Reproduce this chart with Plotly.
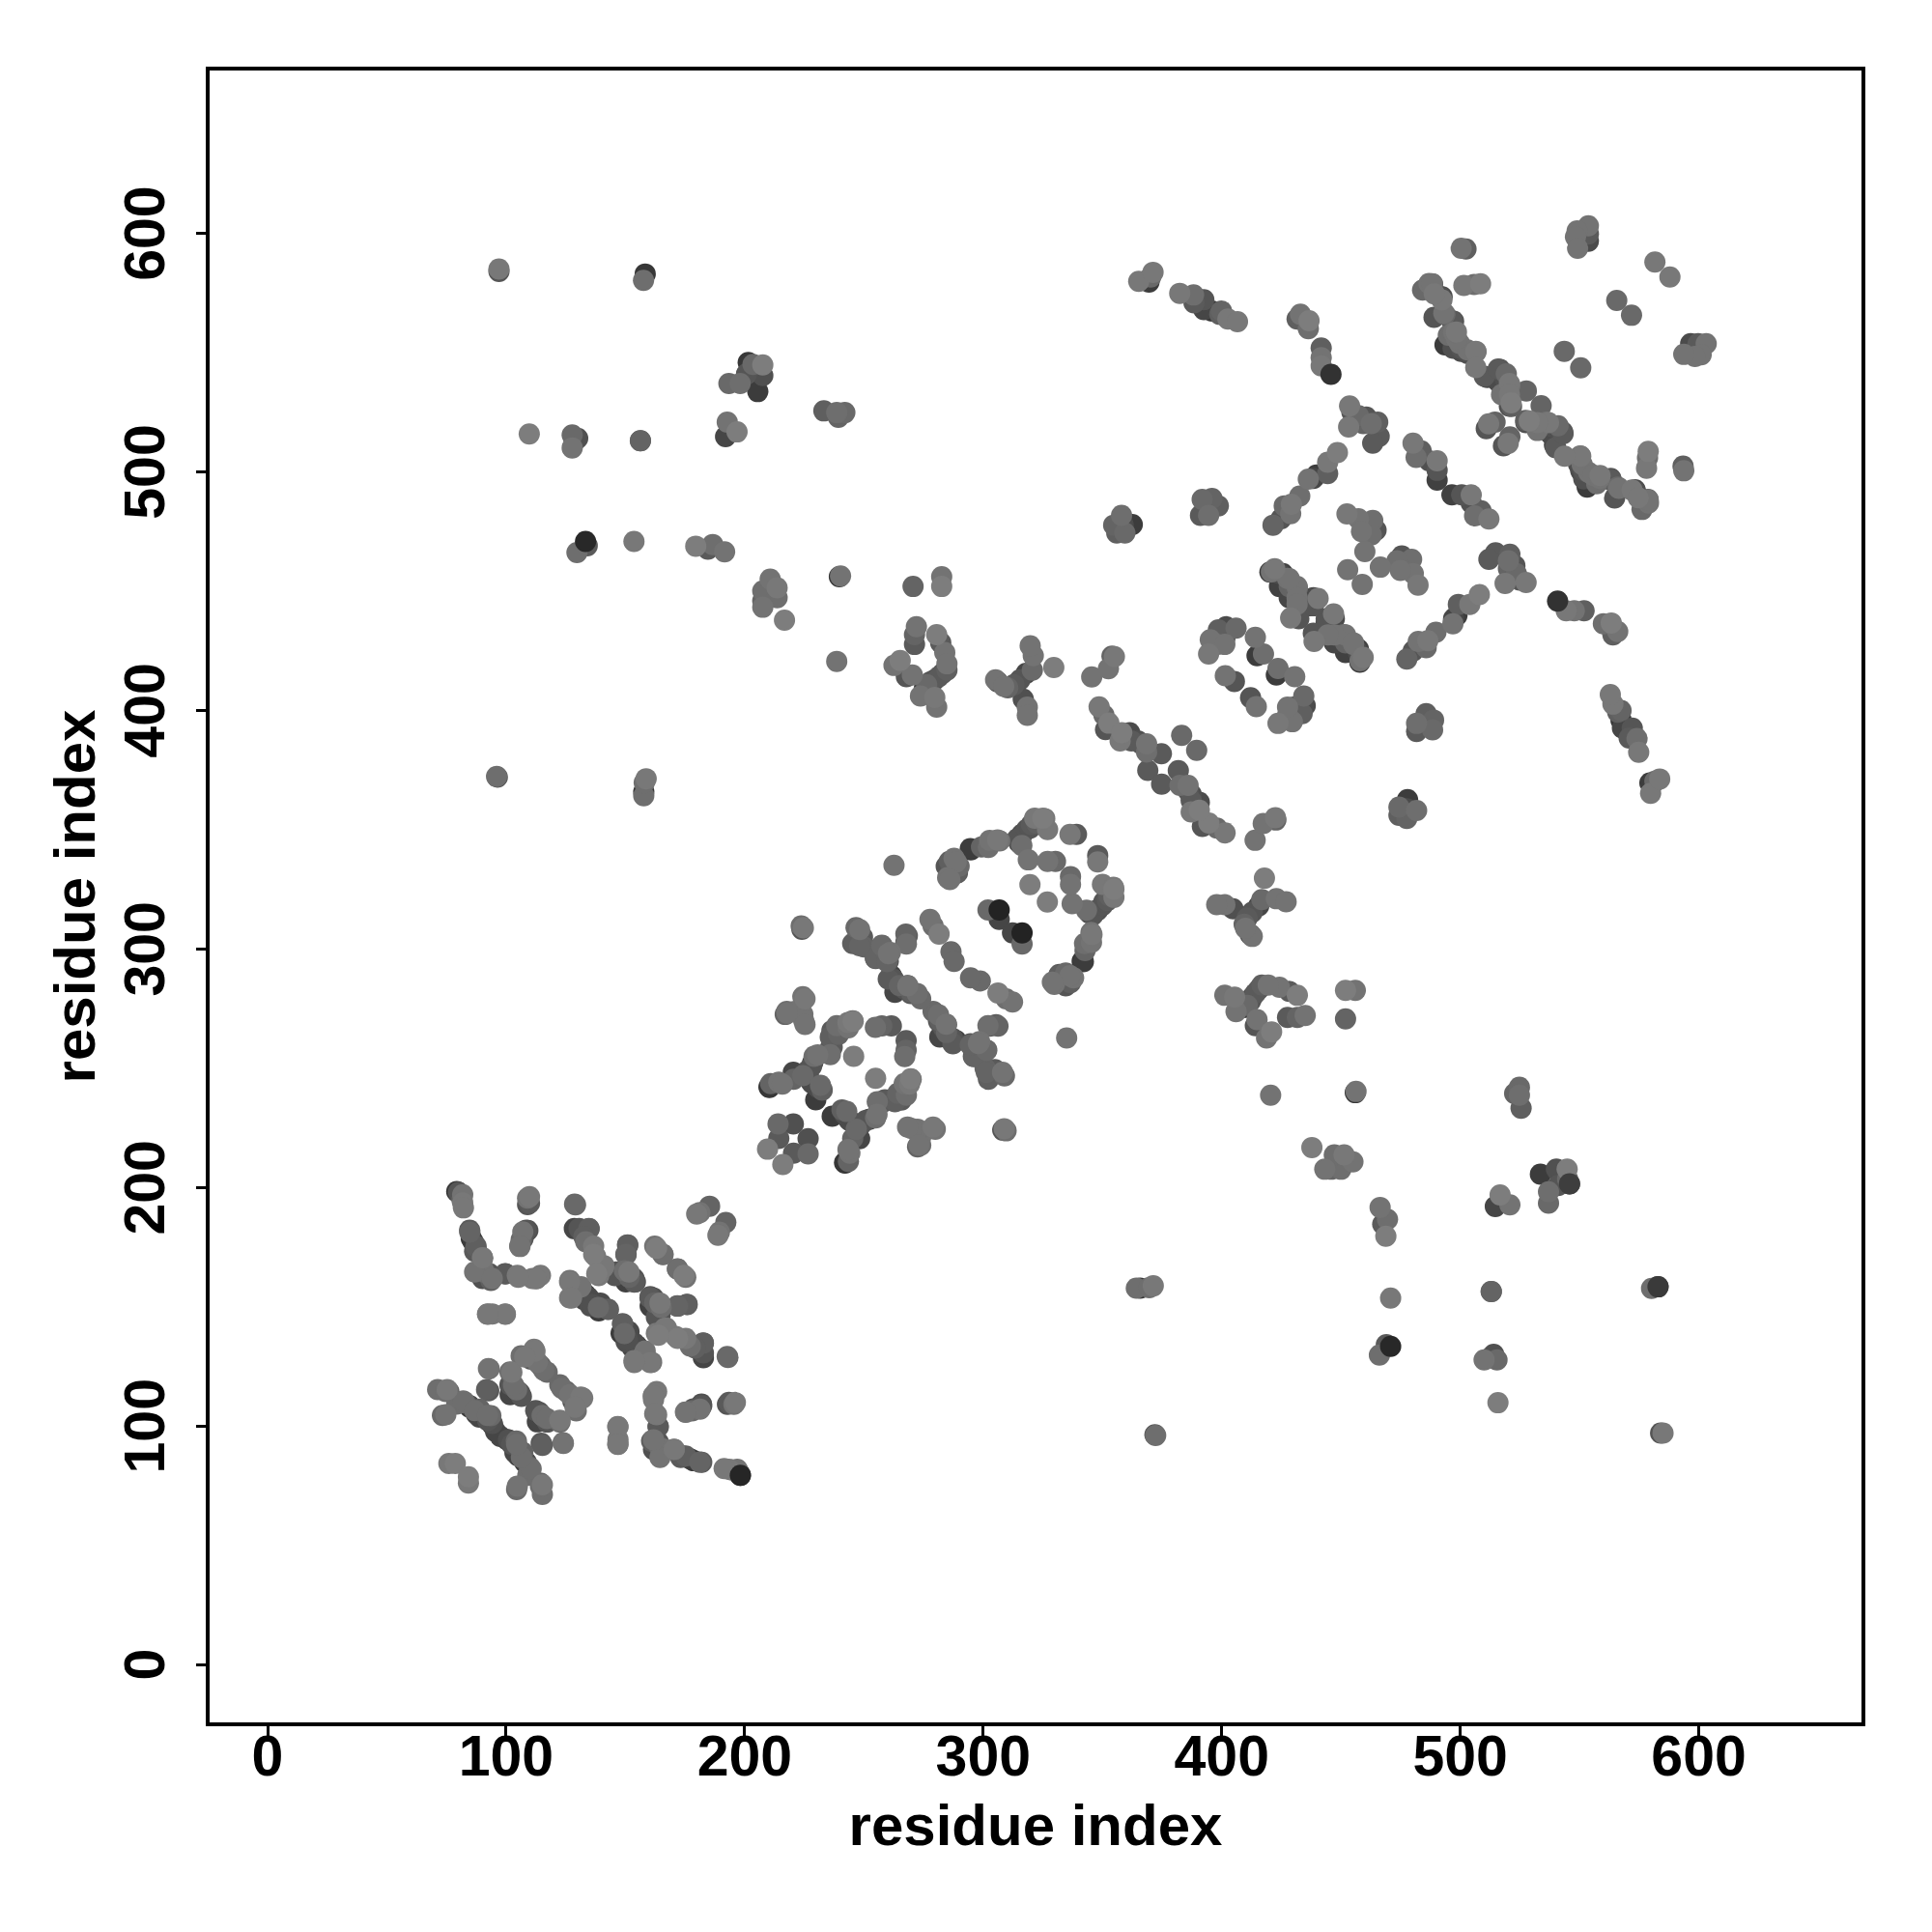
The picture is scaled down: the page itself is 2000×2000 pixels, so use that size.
import plotly.graph_objects as go

far_a_i = [97,97,157.6,158.3,201.5,193.4,198.1,205.5,200.8,207.6,
           203.5,207.6,233.2,238.6,239.3,242,109.7,127.7,127.7,128.6,
           130,156.3,156.3,192,192.7,196.8]
far_a_j = [584,585,580.2,582.9,545.8,537,537,533.6,541,540.3,
           545,544.8,525.5,524.8,522.8,524.8,515.8,510,515.4,512.7,
           514,513,513,514.7,520.8,516.7]
far_a_g = [85,120,110,55,55,105,110,60,85,80,
           105,125,95,110,100,105,125,115,105,60,
           80,85,100,70,115,125]

far_b_i = [134,133.3,129.7,153.6,179.5,184.6,186.6,191.6,239.7,240.2,
           207.6,207.6,207.6,213.6,213.6,210.7,216.7,270.6,282.6,282.6,
           238.6,96.3,96,157.7,157.7,157.9,158.7]
far_b_j = [469,470.8,466.1,470.8,468.8,467.5,469.5,466.4,456,456.3,
           443.2,445.9,450,447.2,451.3,455,437.8,451.9,451.9,456,
           420.5,372,372.3,364.2,365.8,369.6,371.3]
far_b_g = [90,40,110,120,125,90,110,115,55,115,
           115,100,110,110,120,115,125,100,125,115,
           115,85,110,110,55,110,120]

loop_a_i = [271.2,271.2,272,262.6,265.2,267.8,270.3,280.5,282.2,283.9,
            275.4,273.7,278,276.3,279.7,281.4,283,284.8,284.8,279.7,
            280.5]
loop_a_j = [427.6,431.7,435,418.8,420.9,414.1,414.8,431.7,428.3,424.2,
            409.4,406,412,410.7,412.8,414.1,415.5,416.8,419.5,405.4,
            401.3]
loop_a_g = [90,100,115,115,125,85,115,125,90,115,
            60,115,85,105,80,90,85,95,115,120,
            115]

arm_i = [305.2,306,308.6,310.3,312.9,315.4,318,320.6,321,319.7,
         316.8,318.5,318.5,329.6,345.5,352.5,354,355]
arm_j = [412.8,412,410,409.4,410.7,412.8,415.5,416.8,422.9,427,
         404.7,401.3,397.9,417.9,414,417.4,422.7,422.5]
arm_g = [115,80,115,100,90,85,70,105,115,115,
         80,115,115,125,115,115,100,120]

strip_i = [348.6,350.6,352.7,351.3,358.1,357.4,361.4,362.1,364.8,366.2,
           368.5,368.5,369,374.7,383.2]
strip_j = [401.4,398,394.6,391.9,390.6,387.2,390.6,387.2,387.2,385.9,
           385.9,382.5,374.8,381.8,389.5]
strip_g = [120,105,125,85,125,120,75,90,80,85,
           115,110,90,90,105]

upper_a_i = [365.2,369.5,370.2,371.2,382.4,388.2,388.4,392.5,392.5,395.9,
             399.9,399.2,402.6,406.6,431.6,433,435.7,436.3,436.6,441.7,
             441.7,441.7,445.8,453.6,454.6,457.3,460.6,465.4,466,463.3,
             453.2,459.3,462.7,448.5,444.4,444.4,439.7,438.4,436.3]
upper_a_j = [579.8,579.5,581.6,583.6,574.8,574.1,570.8,572.1,568,567.4,
             567.4,566,564,562.9,564,566,562,560,563.3,551.9,
             547.8,544.4,540.8,527.6,524.9,523.5,522.9,520.8,514.8,512,
             518.8,520.2,520.2,508,504,499.2,498.6,497.2,496.9]
upper_a_g = [120,60,105,120,120,110,90,85,70,55,
             100,95,120,120,95,115,70,110,125,95,
             115,120,50,120,85,105,85,95,90,90,
             120,100,110,125,120,95,60,70,115]

upper_b_i = [432.7,429.2,426.2,428.9,424.9,421.5,358,354.7,356,359.4,
             358.7,362.5,391.1,391.8,393.8,394.5,395.9,398.6,480.2,483.6,
             481.5,486.9,490.3,490.3,490.3]
upper_b_j = [489.8,486.4,485.7,482.4,480.3,477.6,481.7,477.6,474.3,474.3,
             477.6,477.9,481.7,488.4,485,481.7,488.8,485.7,512,508.7,
             506,504.6,500.6,504.6,496.5]
upper_b_g = [110,120,105,115,85,100,110,100,95,105,
             75,60,90,105,55,110,100,95,120,95,
             110,80,85,120,65]

helix_i = [501.5,505.8,508.5,500.4,502.4,553.7,553.7,553.7,549,548.3,
           549.2,581.6,565.6,543.6,484.2,486.9,489,488.2,491.6,492.3,
           493.6,496.4,498.4,495,493.6,497,499.7,500.4,503.1,506.5,
           506.5,510.1,515.9,519.3,515.9,520.6,520.6,517.3,520.6,521.3,
           527.7,510.9,514.6,511.9]
helix_j = [578.1,578.5,578.8,593.7,593.4,596.6,599.7,603.1,601,598.4,
           593.7,587.9,571.8,550.5,576.2,578.9,564.7,578.8,573.4,572,
           566,563.3,558.6,557.2,553.2,551.8,553.8,550.5,551.1,550.5,
           543.7,540,543.1,541,537.7,537,532.3,532.3,527.5,528.9,
           533.9,518.1,520.8,520.1]
helix_g = [120,110,125,115,95,75,90,115,115,115,
           115,120,105,105,105,115,85,115,80,120,
           105,90,120,110,60,80,115,75,115,120,
           120,90,90,105,75,120,120,115,80,125,
           100,85,100,120]

core_a_i = [452.5,457.3,463.3,458.6,461.3,464.7,462.7,460,452.8,420.8,
            424.2,427.6,424.2,428.3,431.6,428.3,431.6,431.6,437,438.4,
            440.4,428.9,432.3]
core_a_j = [482.3,480.3,479.6,474.9,474.2,475.5,473.5,466.5,458.9,458,
            457.3,455.3,451.9,451.9,451.9,447.2,447.2,444.5,443.8,447.2,
            446.9,438.7,438.4]
core_a_g = [120,115,110,115,70,85,110,115,115,115,
            75,115,65,100,115,70,115,115,65,75,
            120,120,85]

core_b_i = [406,401.9,398.6,395.2,401.3,401.3,397.9,394.5,414.1,414.8,
            417.5,401.5,405.3]
core_b_j = [434.4,435,433.7,429.6,430.3,427.6,427.6,423.6,430.6,422.9,
            423.6,414.5,412.1]
core_b_g = [105,75,95,115,70,115,110,120,115,60,
            110,115,85]

mid_a_i = [262.6,285.1,284.5,285.8,287.8,289.2,289.9,294.6,299.3,302.7,
           306,316.2,314.2,316.2,318.2,320.2,321.6,325,327,318.9,
           327,330.3,336.4,339.1,319.6,302,306.7,306.7]
mid_a_j = [335,329.8,334.6,336.6,337.9,331.9,334.6,342,342.7,345.4,
           345.6,343.3,346,348,350,352.1,354.8,354.8,350,337.3,
           336.6,336.6,348,348,326.9,316.3,312.3,316.3]
mid_a_g = [115,115,85,95,115,90,105,60,100,115,
           120,110,85,80,85,90,120,125,120,115,
           115,105,120,90,125,105,70,35]

mid_b_i = [277.7,279,281.5,286.5,287.8,246.7,245.3,249.4,250,254.8,
           257.5,261.1,254.8,260.2,267.6,267.6,260.2,261.5,264.9,268.3,
           266.9,269.6,272.3,223.7,224,224.4,217,217.7,221,224.4,
           224.7]
mid_b_j = [312.3,309.6,306.2,298.8,294.7,308.9,302.2,304.9,300.8,299.5,
           301.5,298.5,296.1,294.7,302.8,306.2,287.3,288.7,284.6,284.6,
           283.3,281.3,281.3,309.6,308.2,279.9,272.5,273.8,273.8,272.5,
           270]
mid_b_g = [115,110,125,105,105,105,95,90,100,85,
           105,115,100,85,85,100,90,65,100,70,
           85,85,110,110,85,115,100,110,115,115,
           115]

mid_c_i = [245.3,243.3,238.6,236.6,235.9,235.9,235.9,229.1,228.5,226.4,
           220.4,214.3,210.2,210.9,224.4,228.5,232.5,229.8,231.8,245.7,
           254.8,257.5,261.5,214,220.4,214.3,209.6]
mid_c_j = [269.8,269.1,267.8,265.7,263,258.3,255.6,254.9,252.2,248.9,
           248.2,244.1,242.1,243.5,246.8,243.5,240.8,236.7,242.8,254.9,
           267.1,267.7,267.7,226.6,226.6,220.5,216]
mid_c_g = [100,120,110,90,95,90,110,110,60,85,
           70,115,55,100,105,75,95,60,105,125,
           110,100,90,105,80,90,125]

mid_d_i = [287.2,281.8,279,284.5,281.8,294.6,298,295.9,301.3,301.3,
           304.7,308.1,302,305.4,347.9,350.6,352.6,354.6,344.5,345.2,
           342.5,341.5,336.4,331.7,329,241.9,244,247.4,250.7,255.5,
           258.8,264.2,266.9,269.6,241.9,243.3,245.3,268.3,279,273,
           308.8]
mid_d_j = [262.4,269.8,273.8,268.4,263,259.7,260.3,254.9,257.6,248.2,
           248.2,248.2,267.8,268.2,316.3,319.7,322.4,325.8,315,306.9,
           302.2,294.8,288.7,288.7,286,230.6,228,222.6,228,230.6,
           236.7,239.4,243.5,245.5,210.4,215.8,220.5,225.3,225.3,217.8,
           224.6]
mid_d_g = [85,95,105,115,70,100,115,85,105,100,
           85,115,110,95,75,85,95,120,70,115,
           110,55,115,95,115,75,60,65,85,115,
           90,100,115,125,55,115,100,115,120,115,
           120]

low_a_i = [79.3,80,81.8,81.8,109,109,128.7,84.7,85.4,87.4,
           86.8,90.1,90.1,86.8,93.1,94.2,90.1,99.6,104.7,111,
           112.8,114.4,108.4,107,106.3,105.7,128.6,130.6,134.7,132.6,
           136.7,136.7,141,138,150.9,150.2,146.1,148.2,151.5,153.6,
           150.2,154.2,162.3,165.7]
low_a_j = [198.2,197.9,196.9,193.5,192.8,195.5,193,182,178.6,175.3,
           173.2,170.5,166.5,164.5,163.8,161.8,161.8,163.8,163.1,161.8,
           161.8,163.1,182,181.3,178,175.3,182.7,182.7,182.7,179.3,
           175.3,171.9,167.2,163.8,175.9,171.9,164.5,164.5,164.5,161.8,
           160.4,160.4,175.3,171.9]
low_a_g = [55,85,115,120,85,115,105,90,55,95,
           90,120,115,115,85,115,80,90,120,120,
           120,120,85,115,105,115,70,85,95,95,
           120,125,120,125,95,100,85,75,120,80,
           65,85,115,105]

low_b_i = [126.6,126.6,130,132,132.6,134.7,135.3,136.7,138.7,142.5,
           71.3,75.3,73.3,79.3,82,84.7,86.8,88.8,92.2,94.2,
           92.6,91.8,101.6,106.3,111.7,110.4,113.1,115.8,101.6,103.6,
           105.7,76,78.7,92.2,94.2,99.6,179.9,181.2,185.3]
low_b_j = [160.4,153.7,157.7,155,153,153.7,150.3,151.6,149.6,148.9,
           115.2,115.2,104.4,109.1,110.5,107.8,106.4,103.7,104.4,101,
           124,115.2,122.6,129.4,132.1,128,126.7,123.3,117.2,115.9,
           113.9,84.2,84.2,146.9,146.9,146.9,188.8,189.4,192.1]
low_b_g = [120,120,115,55,70,75,80,55,105,85,
           110,120,105,110,110,55,110,70,110,80,
           115,95,110,110,120,85,115,110,85,95,
           85,120,125,115,120,120,120,115,100]

low_c_i = [97.6,100.3,102.3,104.3,105,107,108.4,109.7,114.4,104.7,
           114.4,112.4,115.1,113.1,117.1,122.5,122.5,125.2,127.9,131.3,
           128.9,114.7,123.9,161.7,162.3,163.7,161,164.4,170.4,173.8,
           177.2,181.2,175.2,178.5,181.9,193.4,196.1,192.7,182.6,182.6,
           177.2,171.1,163,166.4,146.8,146.8,191.4,194.7,148.8,148.2,
           151.5,150.9,155,158.3,153.6,161,160.3,162.3,165,163,
           171.8,175.8,171.8,174.5]
low_c_j = [95.6,94.3,92.3,93.6,87.5,88.9,84.8,82.8,74.7,74.7,
           76,106.4,104.4,101.7,103.1,102.4,117.2,114.5,111.8,112.1,
           107.8,92.7,92.9,112.5,105.1,99.7,93.6,90.9,90.2,87.5,
           86.2,84.8,105.8,107.1,109.1,109.8,109.8,129.1,134.8,130,
           133.4,137.5,138.8,140.8,99.7,92.3,82.1,81.5,142.9,138.8,
           139.5,136.1,133.4,131.4,127.4,126.7,153.7,151.6,149.6,145.6,
           150.3,151,165.8,163.1]
low_c_g = [70,60,85,105,55,100,70,105,110,115,
           100,85,110,70,110,120,105,100,90,120,
           120,90,110,120,120,85,95,110,115,90,
           60,100,115,85,80,90,120,105,85,70,
           110,120,120,120,120,120,120,100,95,60,
           75,80,55,115,120,115,90,100,110,85,
           90,85,110,125]

top_c_i = [527.4,536.2,538.9,542.9,539.5,550.3,549.6,551.7,555.7,558.4,
           563.1,566.5,573.3,574.6,578.7,443.8,451.2,455.2,457.3,459.3,
           457.9]
top_c_j = [521.5,520.8,518.8,516.7,511.3,506.6,503.2,500.5,498.5,497.2,
           497.2,493.1,492.4,489.1,488.4,438.4,431.7,428.3,425.6,422.2,
           420.2]
top_c_g = [95,115,80,85,70,115,80,85,115,115,
           85,115,75,120,90,85,110,115,65,120,
           60]

# Contacts whose lower-right copy is painted over everything else.
dark_top_i = [198.2,545.8,582.9]
dark_top_j = [79.3,201.5,158.3]
dark_top_g = [38,62,58]

tick_values = [0, 100, 200, 300, 400, 500, 600]
tick_labels = ["0", "100", "200", "300", "400", "500", "600"]
axis_title = "residue index"

groups_i = [far_a_i, far_b_i, loop_a_i, arm_i, strip_i, upper_a_i, upper_b_i, helix_i,
            core_a_i, core_b_i, mid_a_i, mid_b_i, mid_c_i, mid_d_i, low_a_i, low_b_i, low_c_i, top_c_i]
groups_j = [far_a_j, far_b_j, loop_a_j, arm_j, strip_j, upper_a_j, upper_b_j, helix_j,
            core_a_j, core_b_j, mid_a_j, mid_b_j, mid_c_j, mid_d_j, low_a_j, low_b_j, low_c_j, top_c_j]
groups_g = [far_a_g, far_b_g, loop_a_g, arm_g, strip_g, upper_a_g, upper_b_g, helix_g,
            core_a_g, core_b_g, mid_a_g, mid_b_g, mid_c_g, mid_d_g, low_a_g, low_b_g, low_c_g, top_c_g]

contacts = []
for gi, gj, gg in zip(groups_i, groups_j, groups_g):
    for a, b, g in zip(gi, gj, gg):
        contacts += [(a, b, g), (b, a, g)]
# Paint mid-dark contacts first and lighter over them; the darkest stay on top.
contacts.sort(key=lambda c: (c[2] <= 50, c[2]))
contacts += list(zip(dark_top_i, dark_top_j, dark_top_g))
xs = [c[0] for c in contacts]
ys = [c[1] for c in contacts]
colors = [f"rgb({c[2]},{c[2]},{c[2]})" for c in contacts]

FONT = "Liberation Sans"
fig = go.Figure(go.Scatter(x=xs, y=ys, mode="markers",
                           marker=dict(size=22, color=colors, line=dict(width=0)),
                           hoverinfo="skip"))
axis_common = dict(
    range=[-24.3, 668.2], tickmode="array", tickvals=tick_values, ticktext=tick_labels,
    showgrid=False, zeroline=False, showline=True, mirror=True, linecolor="black", linewidth=4,
    ticks="outside", ticklen=10, tickwidth=3, tickcolor="black",
    tickfont=dict(family=FONT, size=59, color="black", weight="bold"),
    automargin=False,
)
fig.update_xaxes(**axis_common, ticklabelstandoff=-30, title=dict(text=axis_title, standoff=19,
                 font=dict(family=FONT, size=60, color="black", weight="bold")))
fig.update_yaxes(**axis_common, ticklabelstandoff=9, ticklabelshift=9, tickangle=-90,
                 title=dict(text=axis_title, standoff=0,
                 font=dict(family=FONT, size=60, color="black", weight="bold")))
fig.update_layout(width=2000, height=2000, plot_bgcolor="white", paper_bgcolor="white",
                  showlegend=False, margin=dict(l=209, r=81, t=65, b=225))
fig.write_html("out.html")
